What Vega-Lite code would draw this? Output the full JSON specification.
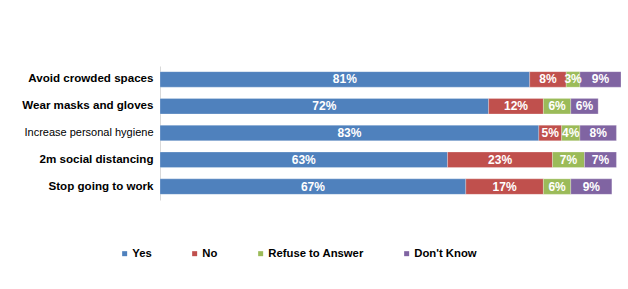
{
  "$schema": "https://vega.github.io/schema/vega-lite/v6.json",
  "width": 461,
  "height": 134,
  "autosize": {"type": "none"},
  "padding": {"left": 160, "top": 66, "right": 7, "bottom": 89},
  "background": "white",
  "config": {"view": {"stroke": null}, "font": "Liberation Sans"},
  "data": {
    "values": [
      {"item": "Avoid crowded spaces", "answer": "Yes", "k": 1, "pct": 81},
      {"item": "Avoid crowded spaces", "answer": "No", "k": 2, "pct": 8},
      {"item": "Avoid crowded spaces", "answer": "Refuse to Answer", "k": 3, "pct": 3},
      {"item": "Avoid crowded spaces", "answer": "Don't Know", "k": 4, "pct": 9},
      {"item": "Wear masks and gloves", "answer": "Yes", "k": 1, "pct": 72},
      {"item": "Wear masks and gloves", "answer": "No", "k": 2, "pct": 12},
      {"item": "Wear masks and gloves", "answer": "Refuse to Answer", "k": 3, "pct": 6},
      {"item": "Wear masks and gloves", "answer": "Don't Know", "k": 4, "pct": 6},
      {"item": "Increase personal hygiene", "answer": "Yes", "k": 1, "pct": 83},
      {"item": "Increase personal hygiene", "answer": "No", "k": 2, "pct": 5},
      {"item": "Increase personal hygiene", "answer": "Refuse to Answer", "k": 3, "pct": 4},
      {"item": "Increase personal hygiene", "answer": "Don't Know", "k": 4, "pct": 8},
      {"item": "2m social distancing", "answer": "Yes", "k": 1, "pct": 63},
      {"item": "2m social distancing", "answer": "No", "k": 2, "pct": 23},
      {"item": "2m social distancing", "answer": "Refuse to Answer", "k": 3, "pct": 7},
      {"item": "2m social distancing", "answer": "Don't Know", "k": 4, "pct": 7},
      {"item": "Stop going to work", "answer": "Yes", "k": 1, "pct": 67},
      {"item": "Stop going to work", "answer": "No", "k": 2, "pct": 17},
      {"item": "Stop going to work", "answer": "Refuse to Answer", "k": 3, "pct": 6},
      {"item": "Stop going to work", "answer": "Don't Know", "k": 4, "pct": 9}
    ]
  },
  "transform": [
    {"stack": "pct", "groupby": ["item"], "sort": [{"field": "k"}], "as": ["x0", "x1"]},
    {"calculate": "(datum.x0 + datum.x1) / 2", "as": "mid"},
    {"calculate": "datum.pct + '%'", "as": "label"}
  ],
  "encoding": {
    "y": {
      "field": "item",
      "type": "nominal",
      "sort": ["Avoid crowded spaces", "Wear masks and gloves", "Increase personal hygiene", "2m social distancing", "Stop going to work"],
      "scale": {"paddingInner": 0.42, "paddingOuter": 0.21},
      "axis": {
        "title": null,
        "domain": true,
        "domainColor": "#d9d9d9",
        "domainWidth": 1,
        "ticks": false,
        "labelPadding": 7,
        "labelFontSize": {"condition": {"test": "datum.value == 'Increase personal hygiene'", "value": 11}, "value": 11.6},
        "labelColor": "#000000",
        "labelFont": "Liberation Sans",
        "labelFontWeight": {"condition": {"test": "datum.value == 'Increase personal hygiene'", "value": "normal"}, "value": "bold"}
      }
    }
  },
  "layer": [
    {
      "mark": {"type": "bar", "stroke": "#ffffff", "strokeOpacity": 0.5, "strokeWidth": 0.5},
      "encoding": {
        "x": {"field": "x0", "type": "quantitative", "scale": {"domain": [0, 101], "nice": false, "zero": true}, "axis": null},
        "x2": {"field": "x1"},
        "color": {
          "field": "answer",
          "type": "nominal",
          "sort": ["Yes", "No", "Refuse to Answer", "Don't Know"],
          "scale": {"domain": ["Yes", "No", "Refuse to Answer", "Don't Know"], "range": ["#4F81BD", "#C0504D", "#9BBB59", "#8064A2"]},
          "legend": {
            "title": null,
            "orient": "none",
            "direction": "horizontal",
            "legendX": -41,
            "legendY": 182,
            "symbolType": "square",
            "symbolSize": 25,
            "symbolStrokeWidth": 0,
            "labelFontSize": 11.3,
            "labelFontWeight": "bold",
            "labelColor": "#000000",
            "labelOffset": 2,
            "columnPadding": 37
          }
        }
      }
    },
    {
      "mark": {"type": "text", "color": "white", "fontWeight": "bold", "fontSize": 12, "baseline": "middle", "align": "center"},
      "encoding": {
        "x": {"field": "mid", "type": "quantitative"},
        "text": {"field": "label", "type": "nominal"},
        "detail": {"field": "answer"}
      }
    }
  ]
}
